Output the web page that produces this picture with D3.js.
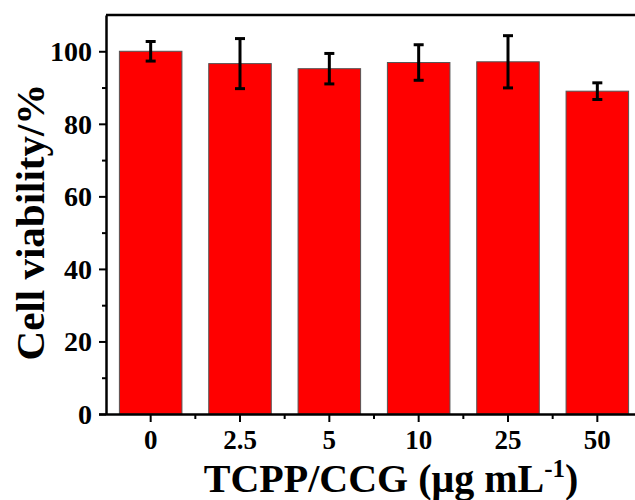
<!DOCTYPE html>
<html lang="en">
<head>
<meta charset="UTF-8">
<title>Cell viability</title>
<style>
  body { margin: 0; background: #fff; }
  svg text { font-family: "Liberation Serif", "Times New Roman", serif; font-weight: bold; fill: #000; }
</style>
</head>
<body>
<svg id="chart"></svg>
<script src="https://d3js.org/d3.v7.min.js"></script>
<script>
// data
const categories = ['0', '2.5', '5', '10', '25', '50'];
const viability = [100.0, 96.6, 95.2, 96.9, 97.1, 89.0];
const errors = [2.7, 6.9, 4.2, 4.9, 7.2, 2.3];
const yTicks = [0, 20, 40, 60, 80, 100];
const yMinor = [10, 30, 50, 70, 90];

const width = 635, height = 500;
const mLeft = 106, mRight = 642, mTop = 15, mBottom = 414;

const svg = d3.select('#chart').attr('width', width).attr('height', height);

const x = d3.scaleBand().domain(categories).range([mLeft, mRight])
    .paddingInner(0.3).paddingOuter(0.15);
const y = d3.scaleLinear().domain([0, 110]).range([mBottom, mTop]);

// bars
svg.append('g').selectAll('rect')
    .data(categories)
    .join('rect')
    .attr('x', d => x(d))
    .attr('y', (d, i) => y(viability[i]))
    .attr('width', x.bandwidth())
    .attr('height', (d, i) => y(0) - y(viability[i]))
    .attr('fill', '#ff0000')
    .attr('stroke', '#555')
    .attr('stroke-width', 1);

// error bars
const eb = svg.append('g').attr('stroke', '#000').attr('stroke-width', 3);
categories.forEach((c, i) => {
    const cx = x(c) + x.bandwidth() / 2;
    const hi = y(viability[i] + errors[i]), lo = y(viability[i] - errors[i]);
    eb.append('line').attr('x1', cx).attr('x2', cx).attr('y1', hi).attr('y2', lo);
    eb.append('line').attr('x1', cx - 5).attr('x2', cx + 5).attr('y1', hi).attr('y2', hi);
    eb.append('line').attr('x1', cx - 5).attr('x2', cx + 5).attr('y1', lo).attr('y2', lo);
});

// minor ticks
svg.append('g')
    .attr('transform', `translate(${mLeft},0)`)
    .call(d3.axisLeft(y).tickValues(yMinor).tickSize(4).tickFormat('').tickSizeOuter(0))
    .call(g => g.select('.domain').remove())
    .selectAll('line').attr('stroke-width', 2);

const xMinor = categories.slice(1).map(c => x(c) - x.step() * x.paddingInner() / 2);
svg.append('g').selectAll('line')
    .data(xMinor)
    .join('line')
    .attr('x1', d => d).attr('x2', d => d)
    .attr('y1', mBottom).attr('y2', mBottom + 5)
    .attr('stroke', '#000').attr('stroke-width', 2);

// y axis
const yAxis = svg.append('g')
    .attr('transform', `translate(${mLeft},0)`)
    .call(d3.axisLeft(y).tickValues(yTicks).tickSize(7).tickSizeOuter(0).tickPadding(7));
yAxis.select('.domain').attr('stroke-width', 2.5);
yAxis.selectAll('line').attr('stroke-width', 2);
yAxis.selectAll('text').style('font-size', '28px').attr('dy', '0.34em');

// x axis
const xAxis = svg.append('g')
    .attr('transform', `translate(0,${mBottom})`)
    .call(d3.axisBottom(x).tickSize(8).tickSizeOuter(0).tickPadding(8));
xAxis.select('.domain').attr('stroke-width', 2.5).attr('d', `M${mLeft - 7},0.5H${mRight}`);
xAxis.selectAll('line').attr('stroke-width', 2);
xAxis.selectAll('text').style('font-size', '27px');

// top frame line
svg.append('line')
    .attr('x1', mLeft).attr('x2', mRight)
    .attr('y1', mTop).attr('y2', mTop)
    .attr('stroke', '#000').attr('stroke-width', 2.5);

// axis titles
const xt = svg.append('text')
    .attr('x', 391).attr('y', 492)
    .attr('text-anchor', 'middle')
    .style('font-size', '40px')
    .text('TCPP/CCG (μg mL');
xt.append('tspan').attr('dy', -15).style('font-size', '25px').text('-1');
xt.append('tspan').attr('dy', 15).text(')');

svg.append('text')
    .attr('transform', 'translate(44,222) rotate(-90)')
    .attr('text-anchor', 'middle')
    .style('font-size', '41px')
    .text('Cell viability/%');
</script>
</body>
</html>
